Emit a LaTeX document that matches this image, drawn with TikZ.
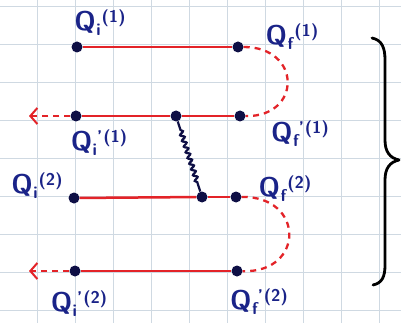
\documentclass[tikz,border=0pt]{standalone}
\usepackage{fontspec}
\usetikzlibrary{decorations.pathmorphing,arrows.meta}
\definecolor{gridc}{HTML}{CFD9E2}
\definecolor{redc}{HTML}{E32328}
\definecolor{dotc}{HTML}{0E0F45}
\definecolor{txtc}{HTML}{1A2388}
\newcommand{\QL}[3]{{\fontsize{27}{27}\selectfont Q}\kern0.5pt\rlap{\raisebox{-5pt}{\fontsize{17}{17}\selectfont #1}}\raisebox{8pt}{\fontsize{17}{17}\selectfont\hphantom{#1}#2\kern1pt(#3)}}
\begin{document}
\begin{tikzpicture}[x=1pt,y=-1pt,
  dot/.style={circle,fill=dotc,inner sep=0pt,minimum size=11pt},
  redline/.style={draw=redc,line width=2.5pt},
  reddash/.style={draw=redc,line width=2.3pt,dash pattern=on 6pt off 5pt},
  wavy/.style={draw=dotc,line width=2.2pt,decorate,decoration={snake,segment length=6pt,amplitude=2pt,pre length=9pt,post length=7pt}},
  lbl/.style={text=txtc,font=\sffamily\bfseries,inner sep=0pt},
  brace/.style={draw=black,line width=2.8pt,line cap=round,line join=round}]
\useasboundingbox (0,0) rectangle (401,323);
\fill[white] (0,0) rectangle (401,323);
% grid
\foreach \gx in {-1,37,75,113,151,189,227,265,303,341,379} \draw[gridc,line width=0.9pt] (\gx,0) -- (\gx,323);
\foreach \gy in {6,44,82,120,158,196,234,272,310} \draw[gridc,line width=0.9pt] (0,\gy) -- (401,\gy);
% dots
\node[dot] (qi1) at (77,47) {};
\node[dot] (qf1) at (238,47) {};
\node[dot] (qi1p) at (76,116) {};
\node[dot] (m1) at (176,116) {};
\node[dot] (qf1p) at (240,116) {};
\node[dot] (qi2) at (74,198) {};
\node[dot] (m2) at (202,197) {};
\node[dot] (qf2) at (236,197) {};
\node[dot] (qi2p) at (75,271) {};
\node[dot] (qf2p) at (237,271) {};
\coordinate (a1) at (29,116);
\coordinate (a2) at (29,271);
% solid lines
\draw[redline] (qi1) -- (qf1);
\draw[redline] (qi1p) -- (m1);
\draw[redline] (m1) -- (qf1p);
\draw[redline] (qi2) -- (m2);
\draw[redline] (m2) -- (qf2);
\draw[redline] (qi2p) -- (qf2p);
% dashed arrows
\draw[reddash,-{Straight Barb[length=7pt,width=16pt,line width=2pt]}] (qi1p) -- (a1);
\draw[reddash,-{Straight Barb[length=7pt,width=16pt,line width=2pt]}] (qi2p) -- (a2);
% dashed curves
\draw[reddash] (qf1) .. controls (302,47) and (302,117) .. (qf1p);
\draw[reddash] (qf2) .. controls (305,196) and (305,273) .. (qf2p);
% wavy
\draw[wavy] (m1) -- (m2);
% labels
\node[lbl] (l1) at (100,23) {\QL{i}{}{1}};
\node[lbl] (l2) at (292,37) {\QL{f}{}{1}};
\node[lbl] (l3) at (99,143) {\QL{i}{'}{1}};
\node[lbl] (l4) at (300,134) {\QL{f}{'}{1}};
\node[lbl] (l5) at (37,186) {\QL{i}{}{2}};
\node[lbl] (l6) at (285,189) {\QL{f}{}{2}};
\node[lbl] (l7) at (79,304) {\QL{i}{'}{2}};
\node[lbl] (l8) at (259,302) {\QL{f}{'}{2}};
% brace
\draw[brace] (372,38) .. controls (382,40) and (385,48) .. (385,60)
  -- (385,140) .. controls (385,152) and (390,158) .. (399,160)
  .. controls (390,162) and (385,168) .. (385,180)
  -- (385,265) .. controls (385,277) and (382,283) .. (373,285);
\end{tikzpicture}
\end{document}
